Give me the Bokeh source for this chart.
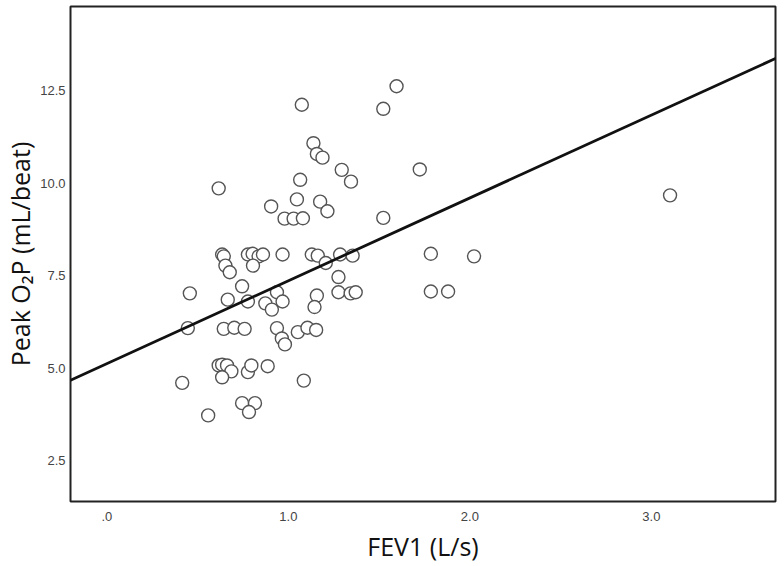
from bokeh.plotting import figure
from bokeh.models import ColumnDataSource, Slope, FixedTicker, Range1d
from bokeh.embed import file_html
from bokeh.resources import INLINE

# FEV1 (L/s)
fev1 = [0.635, 0.644, 0.653, 0.677, 0.777, 0.803, 0.836, 0.860, 0.805, 0.968,
        0.457, 0.745, 0.666, 0.777, 0.873, 0.937, 0.968, 0.909, 0.446, 0.644,
        0.702, 0.759, 0.937, 0.964, 0.981, 1.129, 1.162, 1.206, 1.285, 1.354,
        1.276, 1.276, 1.343, 1.371, 1.157, 1.144, 1.052, 1.105, 1.153, 0.616,
        0.635, 0.662, 0.686, 0.635, 0.777, 0.796, 0.886, 0.415, 0.745, 0.816,
        0.783, 0.558, 1.085, 1.138, 1.157, 1.188, 1.294, 1.345, 1.065, 0.616,
        0.905, 1.047, 1.175, 1.215, 0.979, 1.029, 1.080, 1.596, 1.523, 1.074,
        1.724, 1.523, 1.785, 2.023, 1.785, 1.880, 3.103]
# Peak O2P (mL/beat)
o2p = [8.07, 8.02, 7.77, 7.59, 8.07, 8.09, 8.02, 8.07, 7.77, 8.07,
       7.02, 7.21, 6.85, 6.80, 6.75, 7.05, 6.80, 6.58, 6.08, 6.06,
       6.09, 6.06, 6.08, 5.80, 5.64, 8.07, 8.04, 7.84, 8.07, 8.04,
       7.46, 7.05, 7.02, 7.05, 6.96, 6.65, 5.97, 6.09, 6.03, 5.07,
       5.09, 5.07, 4.91, 4.75, 4.89, 5.07, 5.05, 4.60, 4.05, 4.05,
       3.81, 3.72, 4.66, 11.08, 10.79, 10.69, 10.36, 10.04, 10.09, 9.86,
       9.37, 9.56, 9.50, 9.24, 9.04, 9.04, 9.05, 12.62, 12.01, 12.12,
       10.37, 9.06, 8.09, 8.02, 7.07, 7.07, 9.67]

# fit line
fit_intercept = 5.12
fit_slope = 2.24

x_ticks = [0, 1, 2, 3]
x_tick_labels = [".0", "1.0", "2.0", "3.0"]
y_ticks = [2.5, 5.0, 7.5, 10.0, 12.5]
y_tick_labels = ["2.5", "5.0", "7.5", "10.0", "12.5"]
x_title = "FEV1 (L/s)"
y_title = "Peak O\u2082P (mL/beat)"

p = figure(width=784, height=566, output_backend="svg", toolbar_location=None,
           x_range=Range1d(-0.2005, 3.684), y_range=Range1d(1.391, 14.777),
           min_border_left=68, min_border_right=9, min_border_top=6,
           min_border_bottom=65)
p.background_fill_color = "white"
p.border_fill_color = "white"
p.outline_line_color = "#222222"
p.outline_line_width = 2
p.xgrid.visible = False
p.ygrid.visible = False

src = ColumnDataSource(dict(x=fev1, y=o2p))
p.add_layout(Slope(gradient=fit_slope, y_intercept=fit_intercept,
                   line_color="#111111", line_width=2.8))
p.scatter("x", "y", source=src, size=13, marker="circle",
          fill_color="white", line_color="#555555", line_width=1.4)

for ax, ticks, labels in ((p.xaxis[0], x_ticks, x_tick_labels),
                          (p.yaxis[0], y_ticks, y_tick_labels)):
    ax.ticker = FixedTicker(ticks=ticks)
    ax.major_label_overrides = {t: l for t, l in zip(ticks, labels)}
    ax.axis_line_color = None
    ax.major_tick_line_color = None
    ax.minor_tick_line_color = None
    ax.major_tick_out = 0
    ax.major_tick_in = 0
    ax.major_label_text_font = "Liberation Sans"
    ax.major_label_text_font_size = "13px"
    ax.major_label_text_color = "#444444"
    ax.axis_label_text_font = "Open Sans"
    ax.axis_label_text_font_size = "25px"
    ax.axis_label_text_font_style = "normal"
    ax.axis_label_text_color = "#111111"

p.xaxis.axis_label = x_title
p.yaxis.axis_label = y_title
p.xaxis.major_label_standoff = 10
p.yaxis.major_label_standoff = 5
p.xaxis.axis_label_standoff = 5
p.yaxis.axis_label_standoff = 0

open("out.html", "w").write(file_html(p, INLINE))
